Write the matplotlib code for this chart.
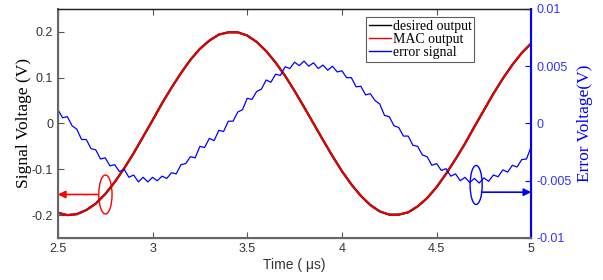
import numpy as np
import matplotlib
matplotlib.use("Agg")
import matplotlib.pyplot as plt
from matplotlib.patches import Ellipse

# time axis for the sine outputs (us)
t_sig = np.arange(2.5, 5.0001, 0.05)
desired = [-0.195, -0.200, -0.198, -0.189, -0.175, -0.154, -0.128, -0.098, -0.065, -0.029,
           0.007, 0.044, 0.078, 0.110, 0.139, 0.163, 0.181, 0.194, 0.199, 0.199,
           0.192, 0.178, 0.158, 0.133, 0.104, 0.071, 0.036, 0.000, -0.036, -0.071,
           -0.104, -0.133, -0.158, -0.178, -0.192, -0.199, -0.199, -0.194, -0.181, -0.163,
           -0.139, -0.110, -0.078, -0.044, -0.007, 0.029, 0.065, 0.098, 0.128, 0.154,
           0.175]
mac_out = list(desired)

# error signal (mV), sampled every 0.025 us
t_err = np.arange(2.5, 5.0001, 0.025)
err_mv = [1.2, 0.5, 0.6, -0.2, -0.5, -1.4, -1.4, -2.2, -2.3, -3.1,
          -3.0, -3.7, -3.6, -4.2, -4.0, -4.7, -4.5, -5.1, -4.7, -5.1,
          -4.7, -5.0, -4.6, -4.8, -4.3, -4.4, -3.6, -3.5, -2.9, -3.0,
          -2.0, -2.1, -1.3, -1.5, -0.6, -0.7, 0.2, 0.2, 1.0, 1.2,
          2.2, 2.1, 2.8, 3.0, 3.8, 3.6, 4.3, 4.2, 4.95, 4.8,
          5.35, 5.05, 5.45, 5.0, 5.3, 4.8, 5.1, 4.65, 5.0, 4.5,
          4.6, 4.0, 4.0, 3.2, 3.25, 2.5, 2.6, 2.0, 1.7, 0.7,
          0.6, -0.2, -0.35, -1.1, -1.1, -1.9, -2.0, -2.75, -2.9, -3.65,
          -3.5, -4.1, -3.95, -4.6, -4.4, -5.0, -4.7, -5.15, -4.8, -5.2,
          -4.75, -5.05, -4.5, -4.65, -4.05, -4.25, -3.65, -3.8, -3.15, -3.1,
          -2.0]
err = np.array(err_mv) / 1000.0

x_ticks = [2.5, 3, 3.5, 4, 4.5, 5]
x_labels = ["2.5", "3", "3.5", "4", "4.5", "5"]
yl_ticks = [-0.2, -0.1, 0, 0.1, 0.2]
yl_labels = ["-0.2", "-0.1", "0", "0.1", "0.2"]
yr_ticks = [-0.01, -0.005, 0, 0.005, 0.01]
yr_labels = ["-0.01", "-0.005", "0", "0.005", "0.01"]

sans = "Liberation Sans"
serif = "Liberation Serif"
tick_col = "#333333"
blue = "#0000ff"

fig = plt.figure(figsize=(6.03, 2.8), dpi=100)
ax = fig.add_axes([0.096, 0.15, 0.785, 0.818])
ax2 = ax.twinx()

l1, = ax.plot(t_sig, desired, color="black", lw=1.6)
l2, = ax.plot(t_sig, mac_out, color="#ee0000", lw=1.4)
l3, = ax2.plot(t_err, err, color=blue, lw=0.9)

ax.set_xlim(2.5, 5)
ax.set_ylim(-0.25, 0.25)
ax2.set_ylim(-0.01, 0.01)

ax.set_xticks(x_ticks)
ax.set_xticklabels(x_labels, fontfamily=sans, fontsize=9, color=tick_col)
ax.set_yticks(yl_ticks)
ax.set_yticklabels(yl_labels, fontfamily=sans, fontsize=9, color=tick_col)
ax2.set_yticks(yr_ticks)
ax2.set_yticklabels(yr_labels, fontfamily=sans, fontsize=9, color="#3333ff")

ax.tick_params(axis="both", direction="in", length=4, width=0.8, colors="#555555",
               labelcolor=tick_col, top=True)
ax2.tick_params(axis="y", direction="in", length=4, width=0.8, colors=blue,
                labelcolor="#3333ff")

for s in ["left", "bottom"]:
    ax2.spines[s].set_color("#666666")
    ax2.spines[s].set_linewidth(1.5)
ax2.spines["top"].set_color("#222222")
ax2.spines["top"].set_linewidth(1.0)
ax2.spines["right"].set_color(blue)
ax2.spines["right"].set_linewidth(1.5)

ax.set_xlabel("Time ( μs)", fontfamily=sans, fontsize=10, color="#333333", labelpad=2)
ax.set_ylabel("Signal Voltage (V)", fontfamily=serif, fontsize=12.5, color="black", labelpad=0)
ax2.set_ylabel("Error Voltage(V)", fontfamily=serif, fontsize=12.5, color=blue, labelpad=4)

# annotations: ellipses and arrows pointing at the matching axis
ax.add_patch(Ellipse((2.751, -0.155), 0.07, 0.085, fill=False, ec="red", lw=1.0))
ax.annotate("", xy=(2.5, -0.155), xytext=(2.71, -0.155),
            arrowprops=dict(arrowstyle="-|>", color="red", lw=1.2, mutation_scale=11,
                            shrinkA=0, shrinkB=0))
ax2.add_patch(Ellipse((4.709, -0.00537), 0.064, 0.0034, fill=False, ec=blue, lw=1.0))
ax2.annotate("", xy=(5.0, -0.0060), xytext=(4.74, -0.0060),
             arrowprops=dict(arrowstyle="-|>", color=blue, lw=1.2, mutation_scale=11,
                             shrinkA=0, shrinkB=0))

leg = ax2.legend([l1, l2, l3], ["desired output", "MAC output", "error signal"],
                 loc="upper right", bbox_to_anchor=(0.88, 0.965),
                 prop={"family": serif, "size": 10}, frameon=True, fancybox=False,
                 handlelength=1.6, handletextpad=0.1, labelspacing=0.02,
                 borderpad=0.2, borderaxespad=0)
leg.get_frame().set_edgecolor("#333333")
leg.get_frame().set_linewidth(0.8)
for h in leg.get_lines():
    h.set_linewidth(1.0)

fig.savefig("out.png", dpi=100)
